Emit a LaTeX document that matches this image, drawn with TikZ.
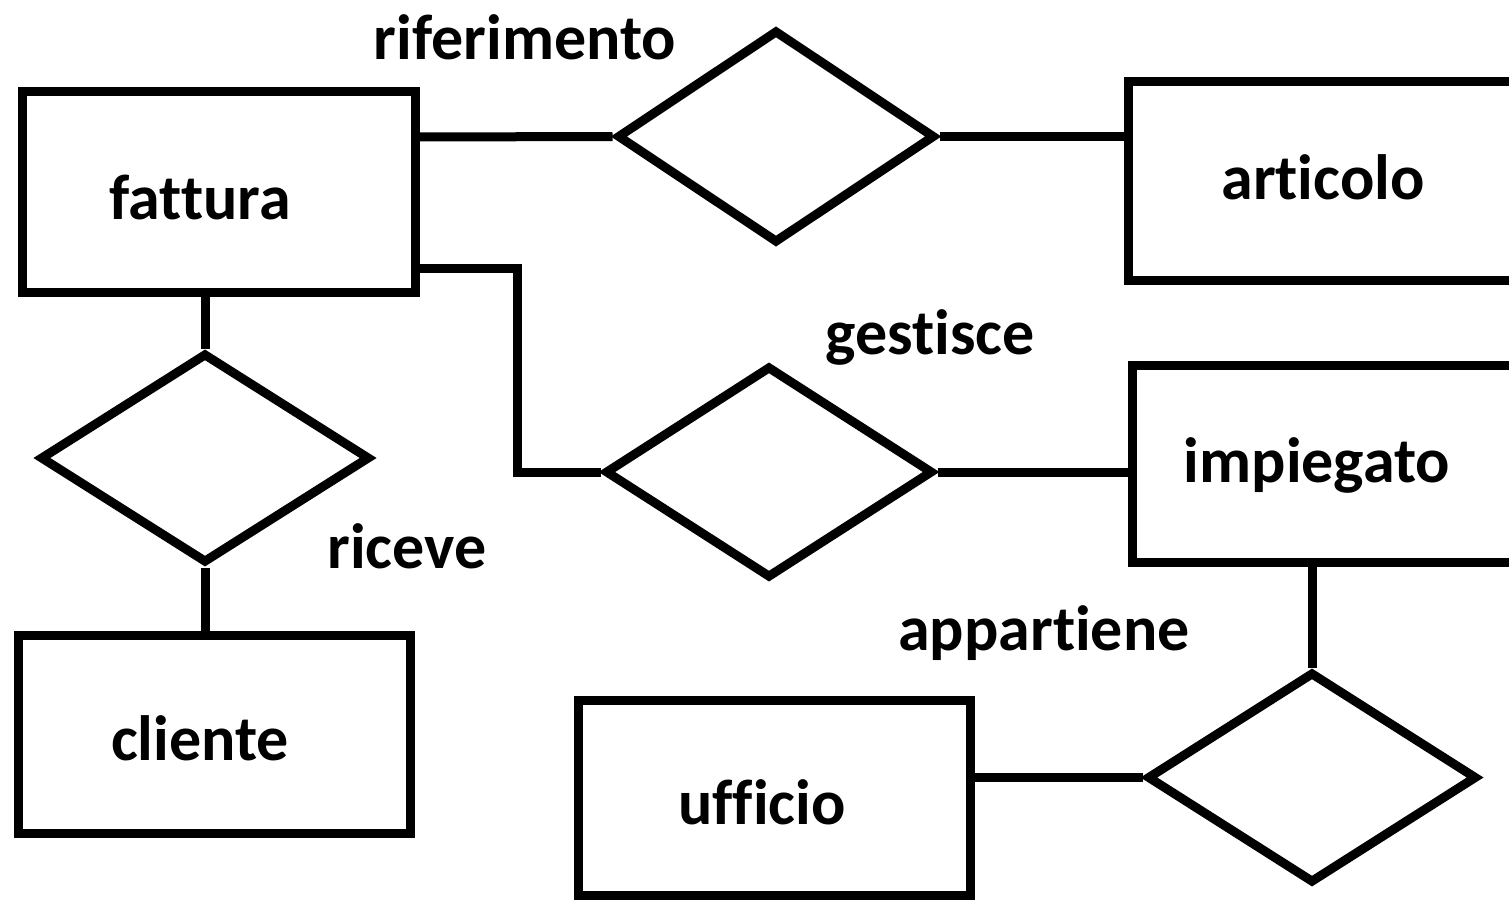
\documentclass[tikz,border=0pt]{standalone}
\usepackage{fontspec}
\setmainfont[Ligatures=NoCommon]{Carlito}
\usetikzlibrary{shapes.geometric}
\begin{document}
\begin{tikzpicture}[x=0.5pt,y=-0.5pt,line width=4.5pt,
  entity/.style={draw,rectangle,inner sep=0pt},
  rel/.style={draw,diamond,inner sep=0pt},
  lbl/.style={font=\fontsize{32}{38}\selectfont\bfseries,inner sep=0pt},
  conn/.style={draw}]
\useasboundingbox (0,0) rectangle (1509,899);
\clip (0,0) rectangle (1509,899);
% entities
\node[entity,minimum width=196.5pt,minimum height=100pt] (fattura) at (218.5,192) {};
\node[entity,minimum width=200pt,minimum height=99pt] (articolo) at (1328,181) {};
\node[entity,minimum width=196pt,minimum height=98.5pt] (impiegato) at (1328,463.5) {};
\node[entity,minimum width=196pt,minimum height=99pt] (cliente) at (214,734) {};
\node[entity,minimum width=196pt,minimum height=97.5pt] (ufficio) at (774,797.5) {};
% relationships
\node[rel,minimum width=159pt,minimum height=106.5pt] (riferimento) at (776,136.5) {};
\node[rel,minimum width=164pt,minimum height=106pt] (gestisce) at (769,472) {};
\node[rel,minimum width=165pt,minimum height=105pt] (riceve) at (205,458) {};
\node[rel,minimum width=165pt,minimum height=105.5pt] (appartiene) at (1312,777.5) {};
% labels
\node[lbl] (tfattura) at (200,197) {fattura};
\node[lbl] (tarticolo) at (1323,177) {articolo};
\node[lbl] (timpiegato) at (1317,465) {impiegato};
\node[lbl] (tcliente) at (200,738) {cliente};
\node[lbl] (tufficio) at (762,802) {ufficio};
\node[lbl] (lriferimento) at (525,37) {riferimento};
\node[lbl] (lgestisce) at (930,337) {gestisce};
\node[lbl] (lriceve) at (407,546) {riceve};
\node[lbl] (lappartiene) at (1044,633) {appartiene};
% connectors
\draw (fattura.east |- 0,137) -- (riferimento.west);
\draw (riferimento.east) -- (articolo.west |- riferimento.east);
\draw (fattura.east |- 0,268) -| (517,472) -- (gestisce.west);
\draw (gestisce.east) -- (impiegato.west |- gestisce.east);
\draw (fattura.south -| riceve.north) -- (riceve.north);
\draw (riceve.south) -- (cliente.north -| riceve.south);
\draw (impiegato.south -| appartiene.north) -- (appartiene.north);
\draw (ufficio.east |- appartiene.west) -- (appartiene.west);
\end{tikzpicture}
\end{document}
